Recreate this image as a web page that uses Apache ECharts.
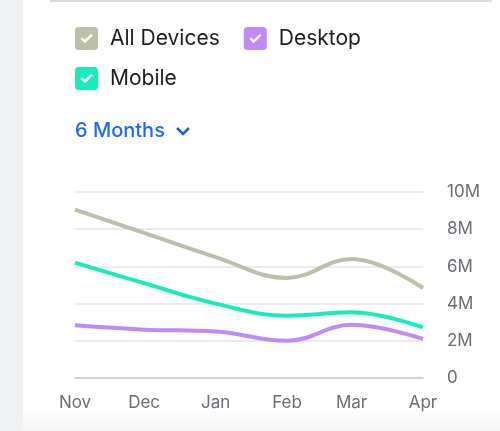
<!DOCTYPE html>
<html>
<head>
<meta charset="utf-8">
<script src="https://cdn.jsdelivr.net/npm/echarts@6/dist/echarts.min.js"></script>
<style>
  html, body { margin: 0; padding: 0; background: #fff; }
  #chart { width: 500px; height: 431px; }
</style>
</head>
<body>
<div id="chart"></div>
<script>
// data (values in millions)
const months = ['2022-11-01', '2022-12-01', '2023-01-01', '2023-02-01', '2023-03-01', '2023-04-01'];
const monthLabels = ['Nov', 'Dec', 'Jan', 'Feb', 'Mar', 'Apr'];
const allDevices = [9.05, 7.8, 6.5, 5.38, 6.4, 4.84];
const desktop = [2.83, 2.6, 2.5, 2.0, 2.86, 2.1];
const mobile = [6.2, 5.1, 4.0, 3.35, 3.53, 2.72];
const yTicks = [0, 2, 4, 6, 8, 10];

const FONT = 'Inter';
// days since the first month, so the axis spacing follows real month lengths
const t0 = Date.UTC(2022, 10, 1);
const days = months.map((m) => {
  const p = m.split('-').map(Number);
  return Math.round((Date.UTC(p[0], p[1] - 1, p[2]) - t0) / 86400000);
});
const pairs = (vals) => vals.map((v, i) => [days[i], v]);

// rounded box with a check cut out of it
const checkIcon =
  'path://M4 0H20Q24 0 24 4V20Q24 24 20 24H4Q0 24 0 20V4Q0 0 4 0Z' +
  'M5.8 12.4L10.4 17L18.6 8.8L16.8 7L10.4 13.4L7.6 10.6Z';

const chart = echarts.init(document.getElementById('chart'));

const legendBase = {
  left: 75,
  padding: 0,
  icon: checkIcon,
  itemWidth: 23,
  itemHeight: 23,
  itemGap: 24,
  textStyle: { fontFamily: FONT, fontSize: 21, color: '#1c1c22', padding: [0, 0, 0, 7] },
};

chart.setOption({
  animation: false,
  color: ['#bdbfa8', '#c08af8', '#19ecbb'],
  legend: [
    Object.assign({}, legendBase, { top: 27, data: ['All Devices', 'Desktop'] }),
    Object.assign({}, legendBase, { top: 67, data: ['Mobile'] }),
  ],
  graphic: [
    { type: 'rect', z: -10, shape: { x: 0, y: 0, width: 23, height: 431 }, style: { fill: '#f0f1f3' } },
    { type: 'rect', z: -10, shape: { x: 50, y: 0, width: 442, height: 2 }, style: { fill: '#dcdce0' } },
    {
      type: 'rect', z: -10,
      shape: { x: 23, y: 410, width: 477, height: 21 },
      style: {
        fill: new echarts.graphic.LinearGradient(0, 0, 0, 1, [
          { offset: 0, color: '#ffffff' },
          { offset: 1, color: '#f5f5f7' },
        ]),
      },
    },
    {
      type: 'text', left: 75, top: 121,
      style: { text: '6 Months', font: '500 20px Inter', fill: '#1f6af2' },
    },
    {
      type: 'polyline',
      shape: { points: [[177, 128], [183, 134], [189, 128]] },
      style: { stroke: '#1565d0', lineWidth: 2.5, fill: null },
    },
  ],
  grid: { left: 75, right: 77, top: 192, bottom: 53 },
  xAxis: {
    type: 'value',
    min: days[0],
    max: days[days.length - 1],
    axisLine: { lineStyle: { color: '#c8c9d2', width: 1.5 } },
    axisTick: { show: false },
    splitLine: { show: false },
    axisLabel: {
      customValues: days,
      showMinLabel: true,
      showMaxLabel: true,
      margin: 16,
      fontFamily: FONT,
      fontSize: 17,
      color: '#6b6b76',
      formatter: (val) => {
        const i = days.indexOf(val);
        return i >= 0 ? monthLabels[i] : '';
      },
    },
  },
  yAxis: {
    type: 'value',
    position: 'right',
    min: 0,
    max: 10,
    interval: 2,
    axisLine: { show: false },
    axisTick: { show: false },
    splitLine: { lineStyle: { color: '#e4e4ec', width: 1.5 } },
    axisLabel: {
      margin: 24,
      align: 'left',
      fontFamily: FONT,
      fontSize: 17,
      color: '#6b6b76',
      formatter: (v) => (yTicks.includes(v) ? (v === 0 ? '0' : v + 'M') : ''),
    },
  },
  series: [
    { name: 'All Devices', type: 'line', smooth: 0.4, showSymbol: false, data: pairs(allDevices), lineStyle: { width: 4 } },
    { name: 'Desktop', type: 'line', smooth: 0.4, showSymbol: false, data: pairs(desktop), lineStyle: { width: 4 } },
    { name: 'Mobile', type: 'line', smooth: 0.4, showSymbol: false, data: pairs(mobile), lineStyle: { width: 4 } },
  ],
});
</script>
</body>
</html>
